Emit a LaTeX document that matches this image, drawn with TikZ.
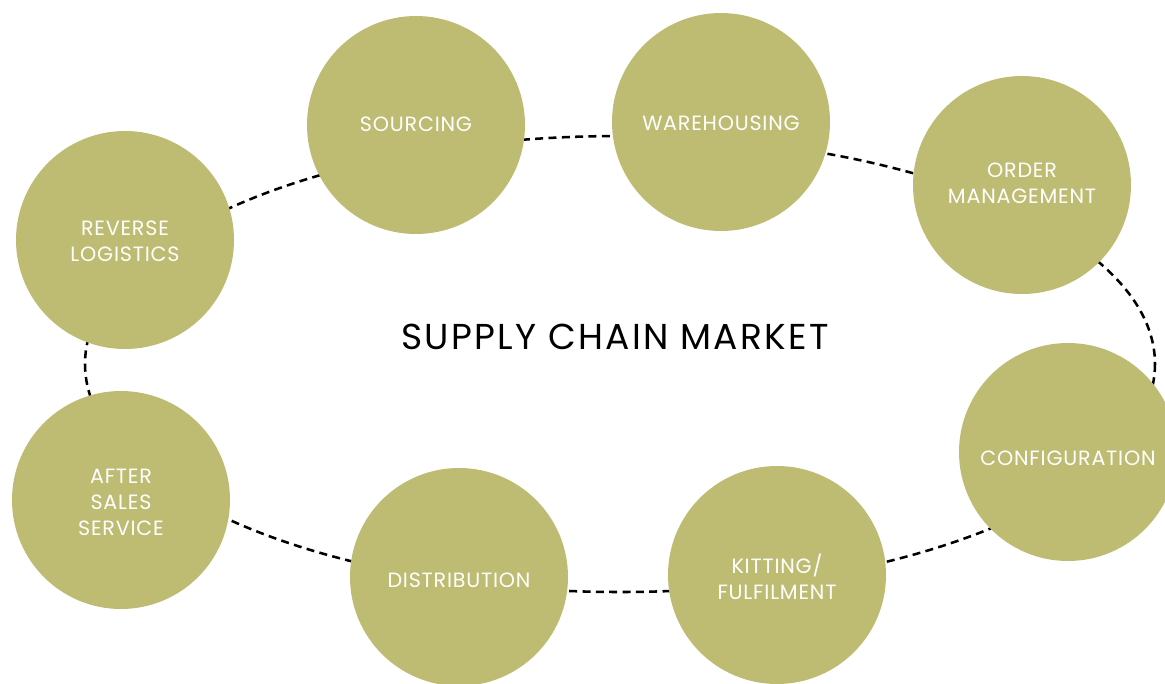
\documentclass[tikz,border=0pt]{standalone}
\usepackage{fontspec}
\setmainfont{Poppins}
\newfontfamily\labelfont[LetterSpace=3.8]{Poppins}
\newfontfamily\titlefont[LetterSpace=6.4]{Poppins}
\definecolor{olive}{HTML}{BEBC73}
\begin{document}
\begin{tikzpicture}[x=0.75pt,y=-0.75pt,
  stage/.style={circle,fill=olive,draw=none,minimum size=163.5pt,inner sep=0pt},
  stagetext/.style={text=white,align=center,inner sep=0pt,font=\labelfont\fontsize{15.5}{19.5}\selectfont},
  ring/.style={dash pattern=on 6pt off 4pt,line width=1.9pt}]
\useasboundingbox (0,0) rectangle (1165,683);
\draw[ring] (620,364) ellipse [x radius=535, y radius=228];
\node[stage] (sourcing) at (416,125) {};
\node[stage] (warehousing) at (721,122) {};
\node[stage] (order) at (1022,185) {};
\node[stage] (config) at (1068,452) {};
\node[stage] (kitting) at (777,575) {};
\node[stage] (distribution) at (459,577) {};
\node[stage] (after) at (121,500) {};
\node[stage] (reverse) at (125,240) {};
\node[stagetext] (sourcing-t) at (416,124) {SOURCING};
\node[stagetext] (warehousing-t) at (721,123) {WAREHOUSING};
\node[stagetext] (order-t) at (1022,183) {ORDER\\MANAGEMENT};
\node[stagetext] (config-t) at (1068,458) {CONFIGURATION};
\node[stagetext] (kitting-t) at (777,577) {KITTING/\\FULFILMENT};
\node[stagetext] (distribution-t) at (459,580) {DISTRIBUTION};
\node[stagetext] (after-t) at (121,502) {AFTER\\SALES\\SERVICE};
\node[stagetext] (reverse-t) at (125,241) {REVERSE\\LOGISTICS};
\node[font=\titlefont\fontsize{27}{32}\selectfont] (title) at (615,337) {SUPPLY CHAIN MARKET};
\end{tikzpicture}
\end{document}
